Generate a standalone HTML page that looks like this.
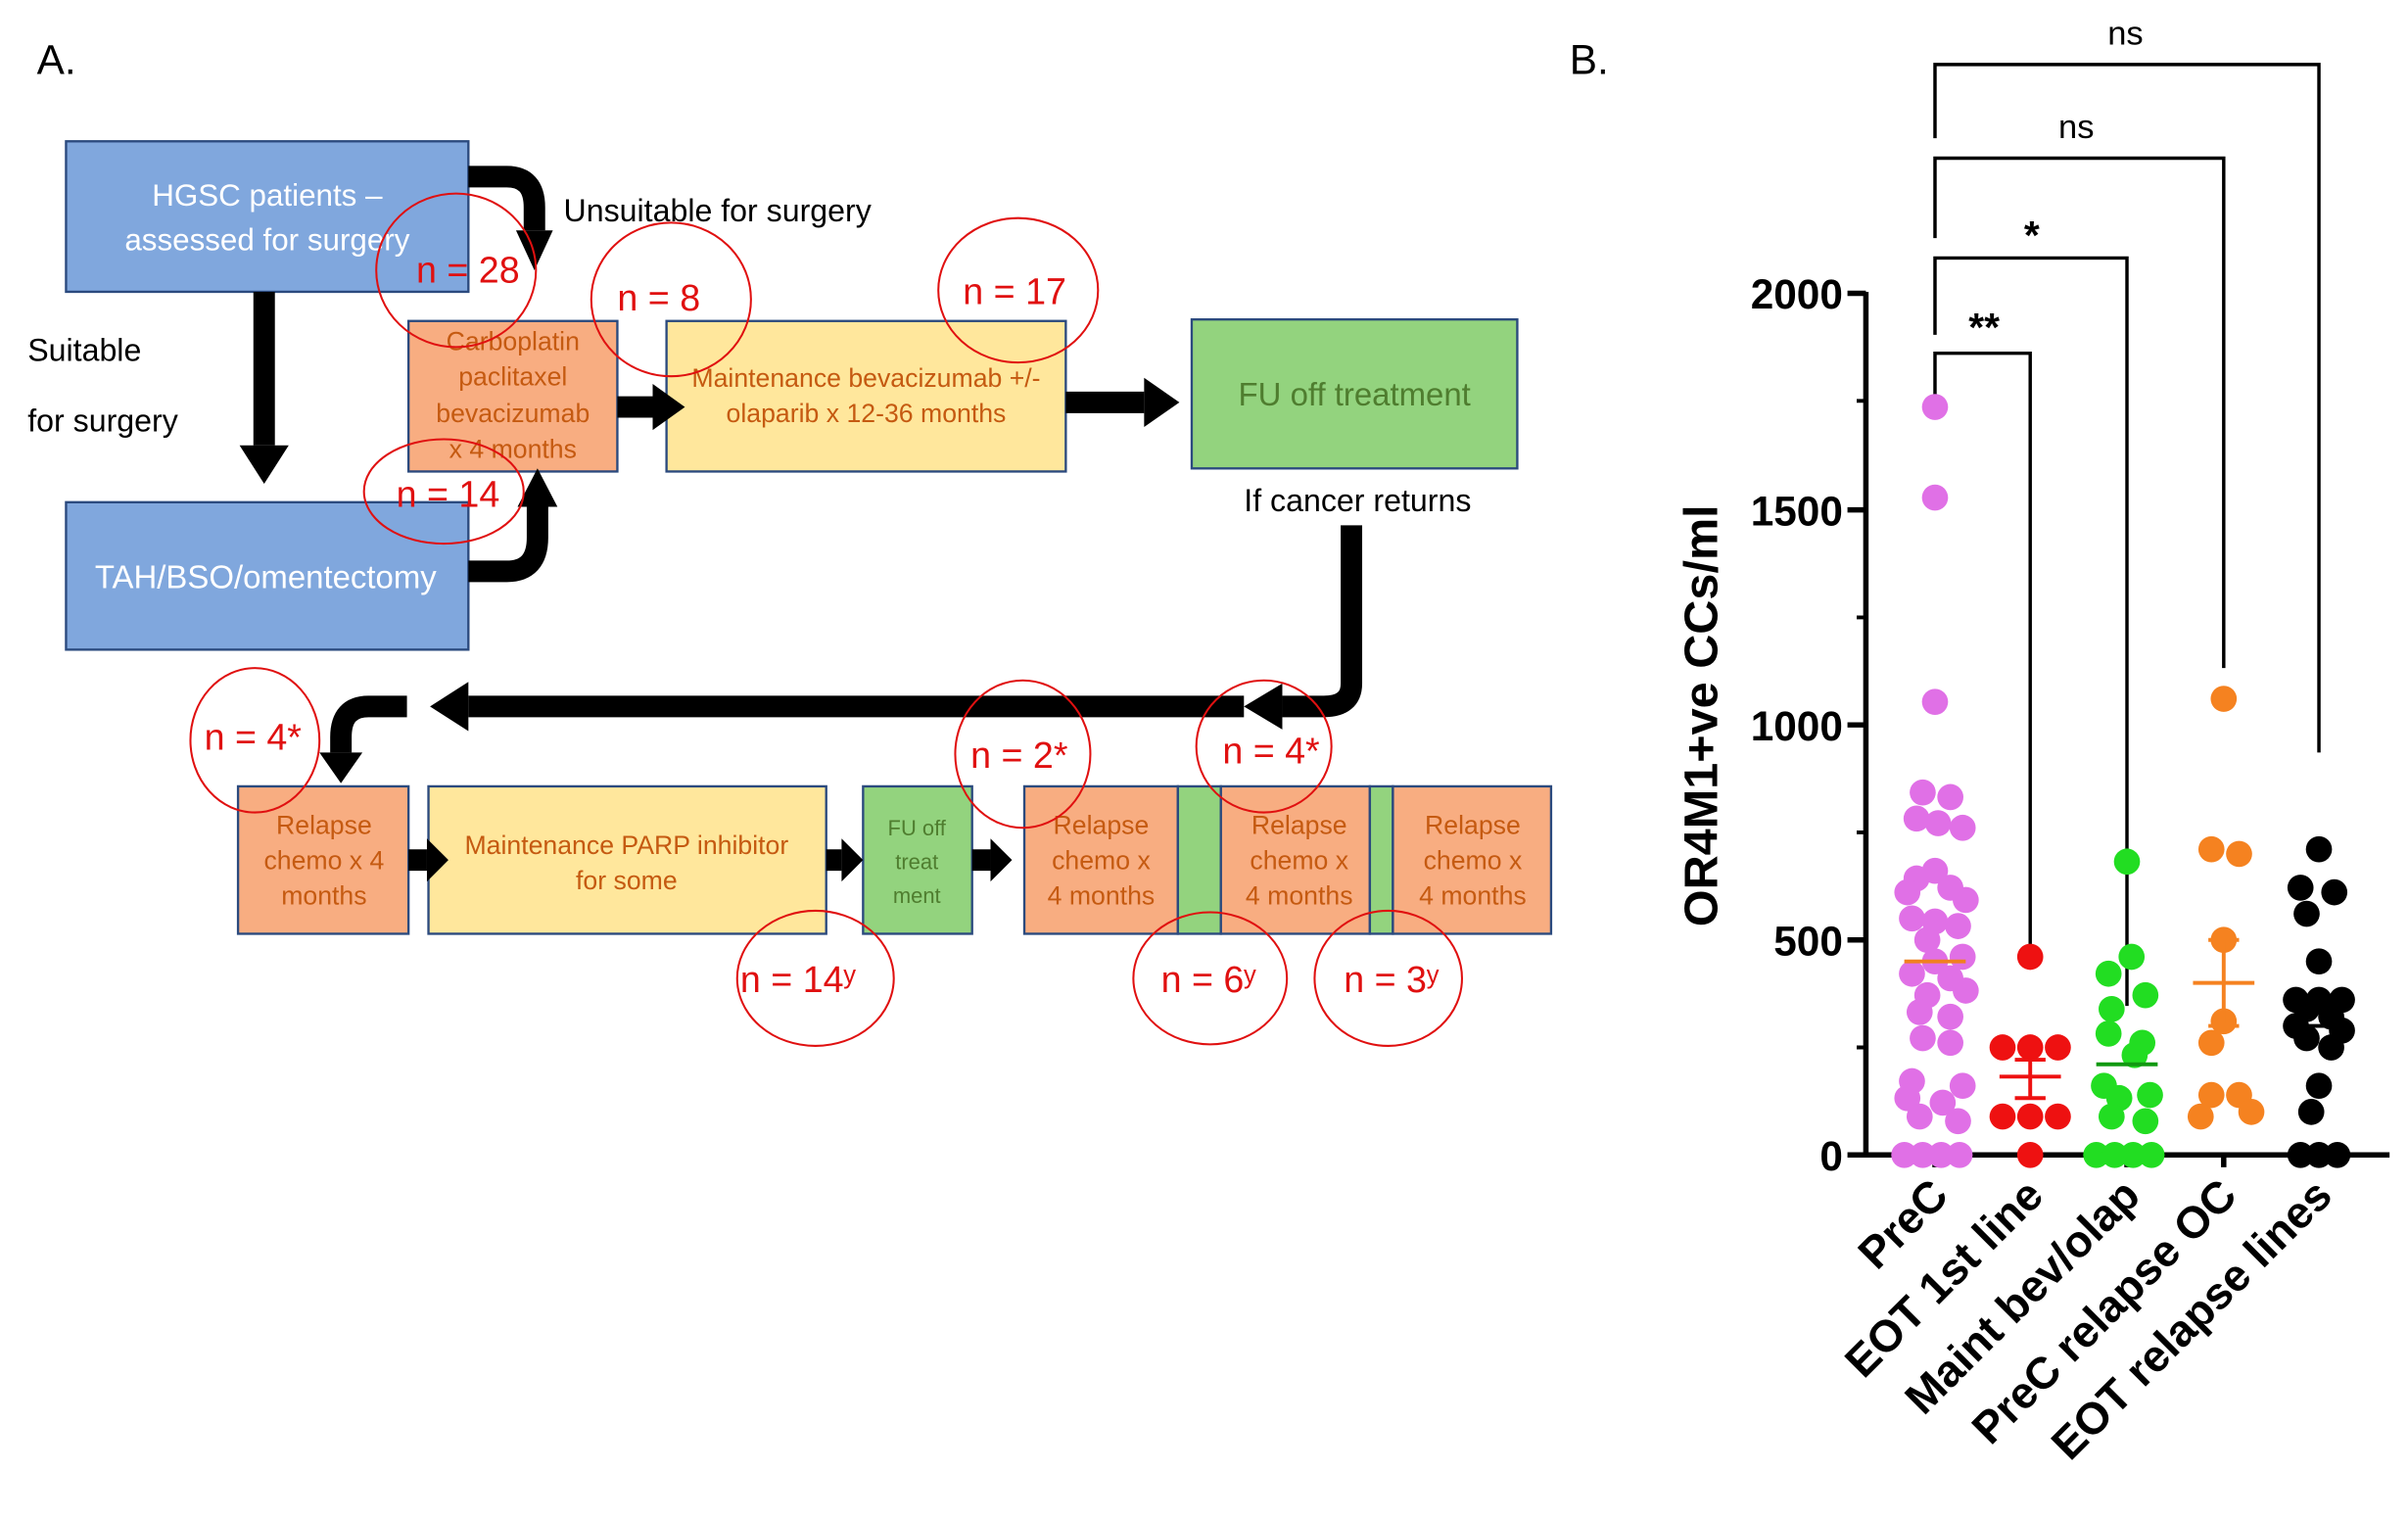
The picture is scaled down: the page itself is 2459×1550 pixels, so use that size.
<!DOCTYPE html>
<html><head><meta charset="utf-8"><style>html,body{margin:0;padding:0;background:#fff}svg{display:block}</style></head>
<body>
<svg width="2459" height="1550" viewBox="0 0 1568 988.4" preserveAspectRatio="none" xmlns="http://www.w3.org/2000/svg" font-family="Liberation Sans, sans-serif">
<rect width="1568" height="989" fill="#fff"/>
<text x="24" y="48" font-size="27">A.</text>
<text x="1022" y="48" font-size="27">B.</text>
<g stroke="#2b4a7e" stroke-width="1.5">
<rect x="43" y="92" width="262" height="98" fill="#80a7dd"/>
<rect x="43" y="327" width="262" height="96" fill="#80a7dd"/>
<rect x="266" y="209" width="136" height="98" fill="#f8ad81"/>
<rect x="434" y="209" width="260" height="98" fill="#ffe79c"/>
<rect x="776" y="208" width="212" height="97" fill="#93d37e"/>
<rect x="155" y="512" width="111" height="96" fill="#f8ad81"/>
<rect x="279" y="512" width="259" height="96" fill="#ffe79c"/>
<rect x="562" y="512" width="71" height="96" fill="#93d37e"/>
<rect x="667" y="512" width="100" height="96" fill="#f8ad81"/>
<rect x="767" y="512" width="28" height="96" fill="#93d37e"/>
<rect x="795" y="512" width="97" height="96" fill="#f8ad81"/>
<rect x="892" y="512" width="15" height="96" fill="#93d37e"/>
<rect x="907" y="512" width="103" height="96" fill="#f8ad81"/>
</g>
<g fill="#fff" font-size="20" text-anchor="middle">
<text x="174" y="134">HGSC patients –</text>
<text x="174" y="163">assessed for surgery</text>
<text x="173" y="383" font-size="21">TAH/BSO/omentectomy</text>
</g>
<g fill="#c55a11" font-size="17" text-anchor="middle">
<text x="334" y="228">Carboplatin</text>
<text x="334" y="251">paclitaxel</text>
<text x="334" y="275">bevacizumab</text>
<text x="334" y="298">x 4 months</text>
<text x="564" y="252">Maintenance bevacizumab +/-</text>
<text x="564" y="275">olaparib x 12-36 months</text>
<text x="211" y="543">Relapse</text>
<text x="211" y="566">chemo x 4</text>
<text x="211" y="589">months</text>
<text x="408" y="556">Maintenance PARP inhibitor</text>
<text x="408" y="579">for some</text>
<text x="717" y="543">Relapse</text><text x="717" y="566">chemo x</text><text x="717" y="589">4 months</text>
<text x="846" y="543">Relapse</text><text x="846" y="566">chemo x</text><text x="846" y="589">4 months</text>
<text x="959" y="543">Relapse</text><text x="959" y="566">chemo x</text><text x="959" y="589">4 months</text>
</g>
<g fill="#4f7d2f" text-anchor="middle">
<text x="882" y="264" font-size="21">FU off treatment</text>
<text x="597" y="544" font-size="14">FU off</text>
<text x="597" y="566" font-size="14">treat</text>
<text x="597" y="588" font-size="14">ment</text>
</g>
<g font-size="20.5" fill="#000">
<text x="367" y="144">Unsuitable for surgery</text>
<text x="18" y="235">Suitable</text>
<text x="18" y="281">for surgery</text>
<text x="810" y="333">If cancer returns</text>
</g>
<g fill="none" stroke="#000" stroke-width="14">
<path d="M305 115 H330 Q348 115 348 135 V150"/>
<path d="M172 190 V290"/>
<path d="M305 372 H330 Q350 372 350 350 V330"/>
<path d="M402 265 H425"/>
<path d="M694 262 H745"/>
<path d="M880 342 V445 Q880 460 862 460 H835"/>
<path d="M810 460 H305"/>
<path d="M265 460 H240 Q222 460 222 480 V490"/>
<path d="M266 560 H278"/>
<path d="M538 560 H548"/>
<path d="M633 560 H645"/>
</g>
<g fill="#000">
<polygon points="336,150 360,150 348,176"/>
<polygon points="156,290 188,290 172,315"/>
<polygon points="337,330 363,330 350,305"/>
<polygon points="425,250 425,280 446,265"/>
<polygon points="745,246 745,278 768,262"/>
<polygon points="835,445 835,475 810,460"/>
<polygon points="305,444 305,476 280,460"/>
<polygon points="208,490 236,490 222,510"/>
<polygon points="278,546 278,574 292,560"/>
<polygon points="548,546 548,574 562,560"/>
<polygon points="645,546 645,574 659,560"/>
</g>
<g fill="none" stroke="#e01010" stroke-width="1.3">
<ellipse cx="297" cy="176" rx="52" ry="50"/>
<ellipse cx="437" cy="195" rx="52" ry="50"/>
<ellipse cx="663" cy="189" rx="52" ry="47"/>
<ellipse cx="289" cy="320" rx="52" ry="34"/>
<ellipse cx="166" cy="482" rx="42" ry="47"/>
<ellipse cx="666" cy="491" rx="44" ry="48"/>
<ellipse cx="823" cy="486" rx="44" ry="43"/>
<ellipse cx="531" cy="637" rx="51" ry="44"/>
<ellipse cx="788" cy="637" rx="50" ry="43"/>
<ellipse cx="904" cy="637" rx="48" ry="44"/>
</g>
<g fill="#e01010" font-size="24">
<text x="271" y="184">n = 28</text>
<text x="402" y="202">n = 8</text>
<text x="627" y="198">n = 17</text>
<text x="258" y="330">n = 14</text>
<text x="133" y="488">n = 4*</text>
<text x="632" y="500">n = 2*</text>
<text x="796" y="497">n = 4*</text>
<text x="482" y="646">n = 14ʸ</text>
<text x="756" y="646">n = 6ʸ</text>
<text x="875" y="646">n = 3ʸ</text>
</g>
<g stroke="#000" stroke-width="3.5" fill="none">
<path d="M1215 190 V752 H1556"/>
<path d="M1203 191 H1215 M1203 332 H1215 M1203 472 H1215 M1203 612 H1215 M1203 752 H1215"/>
<path d="M1209 261 H1215 M1209 402 H1215 M1209 542 H1215 M1209 682 H1215" stroke-width="2.5"/>
<path d="M1260 752 V760 M1322 752 V760 M1385 752 V760 M1448 752 V760 M1510 752 V760"/>
</g>
<g stroke="#000" stroke-width="2.2" fill="none">
<path d="M1260 262 V230 H1322 V620"/>
<path d="M1260 218 V168 H1385 V655"/>
<path d="M1260 155 V103 H1448 V435"/>
<path d="M1260 90 V42 H1510 V490"/>
</g>
<g font-weight="bold" font-size="27" text-anchor="end">
<text x="1200" y="201">2000</text>
<text x="1200" y="342">1500</text>
<text x="1200" y="482">1000</text>
<text x="1200" y="622">500</text>
<text x="1200" y="762">0</text>
</g>
<text x="1292" y="222" font-size="26" font-weight="bold" text-anchor="middle">**</text>
<text x="1323" y="162" font-size="26" font-weight="bold" text-anchor="middle">*</text>
<text x="1352" y="90" font-size="22" text-anchor="middle">ns</text>
<text x="1384" y="29" font-size="22" text-anchor="middle">ns</text>
<text transform="translate(1118,466) rotate(-90)" font-size="31" font-weight="bold" text-anchor="middle">OR4M1+ve CCs/ml</text>
<g font-size="29" font-weight="bold" text-anchor="end">
<text transform="translate(1270,780) rotate(-45)">PreC</text>
<text transform="translate(1332,780) rotate(-45)">EOT 1st line</text>
<text transform="translate(1395,780) rotate(-45)">Maint bev/olap</text>
<text transform="translate(1458,780) rotate(-45)">PreC relapse OC</text>
<text transform="translate(1520,780) rotate(-45)">EOT relapse lines</text>
</g>
<g fill="#e070e6">
<circle cx="1260" cy="265" r="8.5"/><circle cx="1260" cy="324" r="8.5"/><circle cx="1260" cy="457" r="8.5"/>
<circle cx="1252" cy="516" r="8.5"/><circle cx="1270" cy="519" r="8.5"/><circle cx="1248" cy="533" r="8.5"/><circle cx="1262" cy="536" r="8.5"/><circle cx="1278" cy="539" r="8.5"/>
<circle cx="1260" cy="567" r="8.5"/><circle cx="1248" cy="572" r="8.5"/><circle cx="1270" cy="578" r="8.5"/><circle cx="1242" cy="581" r="8.5"/><circle cx="1280" cy="586" r="8.5"/>
<circle cx="1245" cy="598" r="8.5"/><circle cx="1260" cy="600" r="8.5"/><circle cx="1275" cy="603" r="8.5"/><circle cx="1255" cy="612" r="8.5"/><circle cx="1278" cy="623" r="8.5"/>
<circle cx="1260" cy="626" r="8.5"/><circle cx="1245" cy="634" r="8.5"/><circle cx="1270" cy="637" r="8.5"/><circle cx="1280" cy="645" r="8.5"/><circle cx="1255" cy="648" r="8.5"/>
<circle cx="1250" cy="659" r="8.5"/><circle cx="1270" cy="662" r="8.5"/><circle cx="1252" cy="676" r="8.5"/><circle cx="1270" cy="679" r="8.5"/><circle cx="1245" cy="704" r="8.5"/>
<circle cx="1278" cy="707" r="8.5"/><circle cx="1242" cy="715" r="8.5"/><circle cx="1265" cy="718" r="8.5"/><circle cx="1250" cy="727" r="8.5"/><circle cx="1275" cy="730" r="8.5"/>
<circle cx="1240" cy="752" r="8.5"/><circle cx="1252" cy="752" r="8.5"/><circle cx="1264" cy="752" r="8.5"/><circle cx="1276" cy="752" r="8.5"/>
</g>
<path d="M1240 626 H1280" stroke="#f08020" stroke-width="2.5"/>
<g fill="#ee1111">
<circle cx="1322" cy="623" r="8.5"/><circle cx="1304" cy="682" r="8.5"/><circle cx="1322" cy="682" r="8.5"/><circle cx="1340" cy="682" r="8.5"/>
<circle cx="1304" cy="727" r="8.5"/><circle cx="1322" cy="727" r="8.5"/><circle cx="1340" cy="727" r="8.5"/><circle cx="1322" cy="752" r="8.5"/>
</g>
<path d="M1302 701 H1342 M1322 690 V715 M1312 690 H1332 M1312 715 H1332" stroke="#ee1111" stroke-width="2.5"/>
<g fill="#22dd22">
<circle cx="1385" cy="561" r="8.5"/><circle cx="1388" cy="623" r="8.5"/><circle cx="1373" cy="634" r="8.5"/><circle cx="1397" cy="648" r="8.5"/><circle cx="1375" cy="657" r="8.5"/>
<circle cx="1373" cy="673" r="8.5"/><circle cx="1395" cy="679" r="8.5"/><circle cx="1390" cy="687" r="8.5"/><circle cx="1370" cy="707" r="8.5"/><circle cx="1400" cy="713" r="8.5"/>
<circle cx="1380" cy="715" r="8.5"/><circle cx="1375" cy="727" r="8.5"/><circle cx="1397" cy="730" r="8.5"/>
<circle cx="1365" cy="752" r="8.5"/><circle cx="1377" cy="752" r="8.5"/><circle cx="1389" cy="752" r="8.5"/><circle cx="1401" cy="752" r="8.5"/>
</g>
<path d="M1365 693 H1405" stroke="#119911" stroke-width="2.5"/>
<g fill="#f58220">
<circle cx="1448" cy="455" r="8.5"/><circle cx="1440" cy="553" r="8.5"/><circle cx="1458" cy="556" r="8.5"/><circle cx="1448" cy="612" r="8.5"/><circle cx="1448" cy="665" r="8.5"/>
<circle cx="1440" cy="679" r="8.5"/><circle cx="1440" cy="713" r="8.5"/><circle cx="1458" cy="713" r="8.5"/><circle cx="1433" cy="727" r="8.5"/><circle cx="1466" cy="724" r="8.5"/>
</g>
<path d="M1428 640 H1468 M1448 612 V668 M1438 612 H1458 M1438 668 H1458" stroke="#f58220" stroke-width="2.5"/>
<g fill="#000">
<circle cx="1510" cy="553" r="8.5"/><circle cx="1498" cy="578" r="8.5"/><circle cx="1520" cy="581" r="8.5"/><circle cx="1502" cy="595" r="8.5"/><circle cx="1510" cy="626" r="8.5"/>
<circle cx="1495" cy="651" r="8.5"/><circle cx="1510" cy="651" r="8.5"/><circle cx="1525" cy="651" r="8.5"/><circle cx="1502" cy="657" r="8.5"/><circle cx="1518" cy="662" r="8.5"/>
<circle cx="1495" cy="668" r="8.5"/><circle cx="1525" cy="671" r="8.5"/><circle cx="1502" cy="676" r="8.5"/><circle cx="1518" cy="682" r="8.5"/><circle cx="1510" cy="707" r="8.5"/>
<circle cx="1505" cy="724" r="8.5"/><circle cx="1498" cy="752" r="8.5"/><circle cx="1510" cy="752" r="8.5"/><circle cx="1522" cy="752" r="8.5"/>
</g>
<path d="M1490 668 H1530" stroke="#000" stroke-width="2.5"/>
</svg>
</body></html>
